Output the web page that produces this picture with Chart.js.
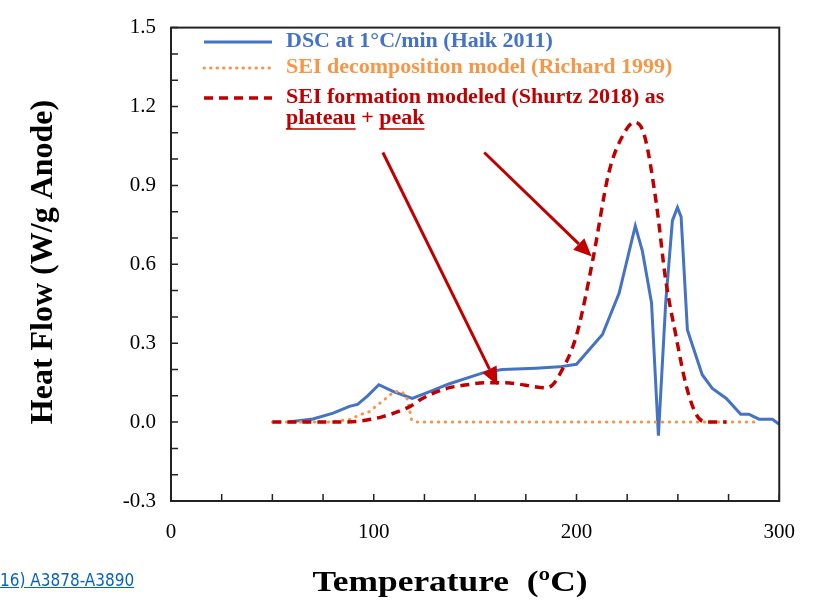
<!DOCTYPE html>
<html>
<head>
<meta charset="utf-8">
<script src="https://cdn.jsdelivr.net/npm/chart.js@4.4.1/dist/chart.umd.min.js"></script>
<style>
  body { margin: 0; background: #fff; }
  #wrap { position: relative; width: 814px; height: 603px; }
  #cite {
    position: absolute; left: 0; top: 570px;
    font: 17px "DejaVu Sans Condensed", "DejaVu Sans", sans-serif;
    color: #0563C1; text-decoration: underline;
  }
</style>
</head>
<body>
<div id="wrap">
  <canvas id="myChart" width="814" height="603"></canvas>
  <div id="cite">16) A3878-A3890</div>
</div>
<script>
// ---- données ----
const dscT = [58, 70, 80, 88, 92, 97, 102.5, 110, 119, 127.6, 137, 147, 155, 163.5, 180, 191.6, 200, 212.8, 221, 229, 232.5, 237, 240.4, 244, 247.3, 249.8, 251.6, 254.7, 262, 267, 273.9, 281, 285, 290, 296.6, 300];
const dscQ = [0, 0.012, 0.034, 0.06, 0.067, 0.1, 0.142, 0.115, 0.09, 0.116, 0.145, 0.17, 0.19, 0.2, 0.205, 0.21, 0.22, 0.333, 0.49, 0.746, 0.65, 0.454, -0.052, 0.454, 0.766, 0.816, 0.78, 0.35, 0.18, 0.128, 0.09, 0.03, 0.03, 0.011, 0.011, -0.008];

const decT = [50, 78, 88, 94, 98, 102, 106, 110, 114, 116.7, 118.6, 121, 290];
const decQ = [0, 0, 0.01, 0.03, 0.04, 0.066, 0.09, 0.116, 0.116, 0.085, 0.01, 0, 0];

const formT = [50, 82, 92, 104, 118, 124, 136, 146, 155, 165, 175, 185, 188, 191.6, 200, 208, 216, 223.6, 228.6, 233.5, 239.4, 244, 249, 254, 259, 264, 274];
const formQ = [0, 0, 0.003, 0.02, 0.06, 0.09, 0.128, 0.142, 0.15, 0.15, 0.14, 0.13, 0.14, 0.18, 0.33, 0.615, 0.95, 1.1, 1.14, 1.09, 0.83, 0.54, 0.33, 0.142, 0.03, 0, 0];

const legendLabels = [
  'DSC at 1\u00B0C/min (Haik 2011)',
  'SEI decomposition model (Richard 1999)',
  'SEI formation modeled (Shurtz 2018) as'
];

// flèches : [x0, y0, x1, y1] en unités des axes
const arrows = [
  [104.5, 1.025, 161, 0.14],
  [154.5, 1.025, 207.5, 0.63]
];

const BLUE = '#4472C4';
const ORANGE = '#F79646';
const RED = '#C00000';
const SERIF = '"Liberation Serif", "Times New Roman", serif';

const toXY = (xs, ys) => xs.map((x, i) => ({ x, y: ys[i] }));

// texte légèrement étiré horizontalement, comme sur la diapo
function wideText(ctx, txt, x, y, sx) {
  ctx.save();
  ctx.translate(x, y);
  ctx.scale(sx, 1);
  ctx.fillText(txt, 0, 0);
  ctx.restore();
  return ctx.measureText(txt).width * sx;
}

// ---- cadre, graduations intérieures, légende, flèches ----
const decorPlugin = {
  id: 'decor',
  afterDraw(chart) {
    const { ctx, chartArea: a, scales: { x, y } } = chart;
    ctx.save();

    // cadre
    ctx.strokeStyle = '#222';
    ctx.lineWidth = 2;
    ctx.strokeRect(a.left, a.top, a.right - a.left, a.bottom - a.top);

    // graduations vers l'intérieur
    ctx.lineWidth = 1.5;
    ctx.beginPath();
    x.ticks.forEach(t => {
      const px = x.getPixelForValue(t.value);
      ctx.moveTo(px, a.bottom);
      ctx.lineTo(px, a.bottom - 7);
    });
    y.ticks.forEach(t => {
      const py = y.getPixelForValue(t.value);
      ctx.moveTo(a.left, py);
      ctx.lineTo(a.left + 7, py);
    });
    ctx.stroke();

    // flèches
    ctx.strokeStyle = RED;
    ctx.fillStyle = RED;
    arrows.forEach(([x0, y0, x1, y1]) => {
      const ax = x.getPixelForValue(x0), ay = y.getPixelForValue(y0);
      const bx = x.getPixelForValue(x1), by = y.getPixelForValue(y1);
      const ang = Math.atan2(by - ay, bx - ax);
      const hl = 18, hw = 8;
      const cx = bx - hl * Math.cos(ang), cy = by - hl * Math.sin(ang);
      ctx.lineWidth = 3;
      ctx.beginPath();
      ctx.moveTo(ax, ay);
      ctx.lineTo(cx, cy);
      ctx.stroke();
      ctx.beginPath();
      ctx.moveTo(bx, by);
      ctx.lineTo(cx + hw * Math.sin(ang), cy - hw * Math.cos(ang));
      ctx.lineTo(cx - hw * Math.sin(ang), cy + hw * Math.cos(ang));
      ctx.closePath();
      ctx.fill();
    });

    // légende
    const rows = [42, 68, 98];
    const styles = [
      { c: BLUE, w: 3, dash: [], cap: 'butt' },
      { c: ORANGE, w: 3, dash: [0.5, 6], cap: 'round' },
      { c: RED, w: 3.5, dash: [9, 6], cap: 'butt' }
    ];
    const SX = 1.1;
    ctx.font = 'bold 20px ' + SERIF;
    ctx.textBaseline = 'middle';
    ctx.textAlign = 'left';
    rows.forEach((ry, i) => {
      const s = styles[i];
      ctx.strokeStyle = s.c;
      ctx.lineWidth = s.w;
      ctx.lineCap = s.cap;
      ctx.setLineDash(s.dash);
      ctx.beginPath();
      ctx.moveTo(204, ry);
      ctx.lineTo(272, ry);
      ctx.stroke();
      ctx.setLineDash([]);
      ctx.lineCap = 'butt';
      ctx.fillStyle = s.c;
      wideText(ctx, legendLabels[i], 286, ry, SX);
    });
    // deuxième ligne de la troisième entrée
    const parts = [['plateau', true], [' + ', false], ['peak', true]];
    let tx = 286;
    const ty = 119;
    ctx.fillStyle = RED;
    ctx.strokeStyle = RED;
    ctx.lineWidth = 1.5;
    parts.forEach(([txt, ul]) => {
      const w = wideText(ctx, txt, tx, ty, SX);
      if (ul) {
        ctx.beginPath();
        ctx.moveTo(tx, ty + 10);
        ctx.lineTo(tx + w, ty + 10);
        ctx.stroke();
      }
      tx += w;
    });

    // titres des axes
    ctx.fillStyle = '#000';
    ctx.font = 'bold 30px ' + SERIF;
    ctx.textAlign = 'center';
    wideText(ctx, 'Temperature  (\u00BAC)', 450, 583, 1.18);
    ctx.font = 'bold 32px ' + SERIF;
    ctx.translate(44, 262);
    ctx.rotate(-Math.PI / 2);
    ctx.fillText('Heat Flow (W/g Anode)', 0, 0);

    ctx.restore();
  }
};

const ctx = document.getElementById('myChart').getContext('2d');

new Chart(ctx, {
  type: 'line',
  data: {
    datasets: [
      {
        label: legendLabels[0],
        data: toXY(dscT, dscQ),
        borderColor: BLUE,
        borderWidth: 3,
        pointRadius: 0,
        tension: 0,
        order: 2
      },
      {
        label: legendLabels[1],
        data: toXY(decT, decQ),
        borderColor: ORANGE,
        borderWidth: 3,
        borderDash: [0.5, 6.5],
        borderCapStyle: 'round',
        pointRadius: 0,
        tension: 0,
        order: 1
      },
      {
        label: legendLabels[2],
        data: toXY(formT, formQ),
        borderColor: RED,
        borderWidth: 3.5,
        borderDash: [9, 6],
        pointRadius: 0,
        cubicInterpolationMode: 'monotone',
        order: 0
      }
    ]
  },
  options: {
    responsive: false,
    animation: false,
    devicePixelRatio: 1,
    layout: { padding: { top: 20, right: 33, left: 0, bottom: 0 } },
    plugins: {
      legend: { display: false },
      tooltip: { enabled: false }
    },
    scales: {
      x: {
        type: 'linear',
        min: 0,
        max: 300,
        afterFit: s => { s.height = 102; },
        ticks: {
          stepSize: 25,
          padding: 19,
          maxRotation: 0,
          autoSkip: false,
          color: '#000',
          font: { family: SERIF, size: 21 },
          callback: v => (v % 100 === 0 ? String(v) : '')
        },
        grid: { display: false, drawTicks: false },
        border: { display: false }
      },
      y: {
        min: -0.3,
        max: 1.5,
        afterFit: s => { s.width = 171; },
        ticks: {
          stepSize: 0.1,
          padding: 15,
          autoSkip: false,
          color: '#000',
          font: { family: SERIF, size: 21 },
          callback: v => (Math.round(v * 10) % 3 === 0 ? v.toFixed(1) : '')
        },
        grid: { display: false, drawTicks: false },
        border: { display: false }
      }
    }
  },
  plugins: [decorPlugin]
});
</script>
</body>
</html>
